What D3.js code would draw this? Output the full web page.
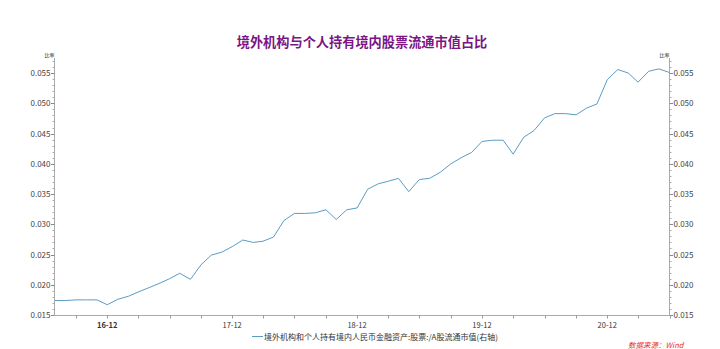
<!DOCTYPE html>
<html>
<head>
<meta charset="utf-8">
<script src="https://cdn.jsdelivr.net/npm/d3@7"></script>
<style>
  body { margin: 0; background: #fff; }
  text { font-family: "Noto Sans CJK SC", "Noto Sans", sans-serif; }
</style>
</head>
<body>
<svg width="720" height="349"></svg>
<script>
// monthly, 2016-07 .. 2021-06
var months = [
  "2016-07","2016-08","2016-09","2016-10","2016-11","2016-12",
  "2017-01","2017-02","2017-03","2017-04","2017-05","2017-06",
  "2017-07","2017-08","2017-09","2017-10","2017-11","2017-12",
  "2018-01","2018-02","2018-03","2018-04","2018-05","2018-06",
  "2018-07","2018-08","2018-09","2018-10","2018-11","2018-12",
  "2019-01","2019-02","2019-03","2019-04","2019-05","2019-06",
  "2019-07","2019-08","2019-09","2019-10","2019-11","2019-12",
  "2020-01","2020-02","2020-03","2020-04","2020-05","2020-06",
  "2020-07","2020-08","2020-09","2020-10","2020-11","2020-12",
  "2021-01","2021-02","2021-03","2021-04","2021-05","2021-06"
];
var ratio = [
  0.0174, 0.0174, 0.0175, 0.0175, 0.0175, 0.0167,
  0.0176, 0.0181, 0.0188, 0.0195, 0.0202, 0.0210,
  0.0219, 0.0209, 0.0233, 0.0249, 0.0254, 0.0263,
  0.0274, 0.0270, 0.0272, 0.0279, 0.0306, 0.0318,
  0.0318, 0.0319, 0.0324, 0.0308, 0.0324, 0.0327,
  0.0358, 0.0367, 0.0371, 0.0376, 0.0354, 0.0374,
  0.0376, 0.0386, 0.0400, 0.0410, 0.0419, 0.0437,
  0.0439, 0.0439, 0.0416, 0.0444, 0.0455, 0.0476,
  0.0483, 0.0483, 0.0481, 0.0492, 0.0499, 0.0539,
  0.0556, 0.0550, 0.0535, 0.0553, 0.0557, 0.0551
];
var yTicks = [0.015, 0.020, 0.025, 0.030, 0.035, 0.040, 0.045, 0.050, 0.055];
var xLabels = ["2016-12", "2017-12", "2018-12", "2019-12", "2020-12"];

var title = "境外机构与个人持有境内股票流通市值占比";
var legendText = "境外机构和个人持有境内人民币金融资产:股票:/A股流通市值(右轴)";
var sourceText = "数据来源：Wind";

var svg = d3.select("svg");
var parse = d3.timeParse("%Y-%m");
var data = months.map((m, i) => ({ date: parse(m), value: ratio[i] }));

var plotL = 54, plotR = 669, plotT = 58, plotB = 315;

var x = d3.scaleTime()
    .domain([parse("2016-07"), parse("2021-06")])
    .range([plotL + 0.9, plotR + 0.5]);
var y = d3.scaleLinear()
    .domain([0.015, 0.0575])
    .range([plotB, plotT]);

var axisColor = "#aaa";

// title
svg.append("text")
    .attr("x", 362).attr("y", 47)
    .attr("text-anchor", "middle")
    .attr("fill", "#7b1585")
    .attr("font-size", 13.2)
    .attr("font-weight", "bold")
    .text(title);

// y axes
var minorTicks = d3.range(15, 58).map(d => d / 1000);
function drawY(xpos, side) {
    var g = svg.append("g").attr("transform", "translate(" + xpos + ",0)");
    g.append("line").attr("y1", plotT).attr("y2", plotB + 0.5)
        .attr("stroke", axisColor);
    g.selectAll(".minor").data(minorTicks).join("line")
        .attr("class", "minor")
        .attr("x1", 0).attr("x2", side * 2)
        .attr("y1", d => Math.round(y(d)) + 0.5).attr("y2", d => Math.round(y(d)) + 0.5)
        .attr("stroke", axisColor);
    g.selectAll(".major").data(yTicks).join("line")
        .attr("class", "major")
        .attr("x1", 0).attr("x2", side * 3.5)
        .attr("y1", d => Math.round(y(d)) + 0.5).attr("y2", d => Math.round(y(d)) + 0.5)
        .attr("stroke", "#888");
    g.selectAll("text.lbl").data(yTicks).join("text")
        .attr("class", "lbl")
        .attr("x", side * 4)
        .attr("y", d => y(d) + 3)
        .attr("text-anchor", side < 0 ? "end" : "start")
        .attr("font-size", 8)
        .attr("fill", "#444")
        .text(d => d3.format(".3f")(d));
    g.append("text")
        .attr("x", -10)
        .attr("y", plotT - 1)
        .attr("font-size", 5)
        .attr("fill", "#222")
        .text("比率");
}
drawY(plotL + 0.5, -1);
drawY(plotR + 0.5, 1);

// x axis
var xg = svg.append("g").attr("transform", "translate(0," + (plotB + 0.5) + ")");
xg.append("line").attr("x1", plotL).attr("x2", plotR).attr("stroke", axisColor);
var quarters = d3.timeMonth.range(parse("2016-07"), parse("2021-07"))
    .filter(d => d.getMonth() % 3 === 2);
xg.selectAll(".qt").data(quarters).join("line")
    .attr("class", "qt")
    .attr("x1", d => Math.round(x(d)) + 0.5).attr("x2", d => Math.round(x(d)) + 0.5)
    .attr("y1", 0).attr("y2", 3)
    .attr("stroke", "#999");
xg.selectAll("text").data(xLabels).join("text")
    .attr("x", d => x(parse(d)))
    .attr("y", 12)
    .attr("text-anchor", "middle")
    .attr("font-size", 7.5)
    .attr("fill", "#333")
    .attr("font-weight", (d, i) => i === 0 ? "bold" : "normal")
    .text(d => d3.timeFormat("%y-%m")(parse(d)));

// line
var line = d3.line().x(d => x(d.date)).y(d => y(d.value));
svg.append("path")
    .datum(data)
    .attr("d", line)
    .attr("fill", "none")
    .attr("stroke", "#5a9cc6")
    .attr("stroke-width", 1);

// legend
svg.append("line")
    .attr("x1", 252).attr("x2", 263)
    .attr("y1", 336.5).attr("y2", 336.5)
    .attr("stroke", "#5a9cc6");
svg.append("text")
    .attr("x", 264).attr("y", 339.5)
    .attr("font-size", 8)
    .attr("fill", "#333")
    .text(legendText);

// source
svg.append("text")
    .attr("x", 628).attr("y", 348)
    .attr("font-size", 7.5)
    .attr("font-style", "italic")
    .attr("fill", "#e8322b")
    .text(sourceText);
</script>
</body>
</html>
